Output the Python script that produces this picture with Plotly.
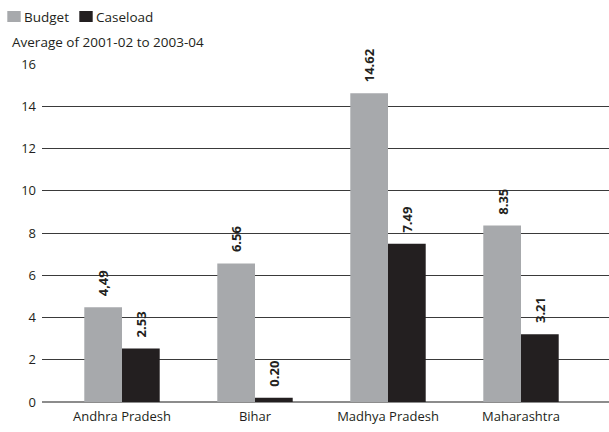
import plotly.graph_objects as go

states = ["Andhra Pradesh", "Bihar", "Madhya Pradesh", "Maharashtra"]
budget = [4.49, 6.56, 14.62, 8.35]
caseload = [2.53, 0.20, 7.49, 3.21]
budget_labels = ["4,49", "6.56", "14.62", "8.35"]
caseload_labels = ["2.53", "0.20", "7.49", "3.21"]
y_ticks = [0, 2, 4, 6, 8, 10, 12, 14, 16]

FONT = "Open Sans"
DARK = "#231F20"
GRAY = "#A7A9AC"
BAR_PX = 37.7
W, H = 609, 432
ML, MT, MB = 42, 64, 30
PW, PH = W - ML, H - MT - MB


def px_x(p):
    return (p - ML) / PW


def px_y(p):
    return 1 + (MT - p) / PH


fig = go.Figure()
fig.add_trace(go.Bar(name="Budget", x=states, y=budget,
                     marker=dict(color=GRAY, line=dict(width=0))))
fig.add_trace(go.Bar(name="Caseload", x=states, y=caseload,
                     marker=dict(color=DARK, line=dict(width=0))))

annotations = []
for vals, labels, shift in [(budget, budget_labels, -BAR_PX / 2), (caseload, caseload_labels, BAR_PX / 2)]:
    for s, v, t in zip(states, vals, labels):
        annotations.append(dict(x=s, y=v, xref="x", yref="y", text=t, textangle=-90,
                                xanchor="center", yanchor="bottom", xshift=shift, yshift=9,
                                showarrow=False,
                                font=dict(family=FONT, size=13, color=DARK, weight="bold")))
annotations.append(dict(text="Average of 2001-02 to 2003-04", xref="paper", yref="paper",
                        x=px_x(10), y=px_y(41.5), xanchor="left", yanchor="middle",
                        showarrow=False, font=dict(size=13.5)))

# legend (manual, to match the reference's compact swatches)
shapes = []
for name, color, sx, tx in [("Budget", GRAY, 7.3, 22.3), ("Caseload", DARK, 79.3, 94)]:
    shapes.append(dict(type="rect", xref="paper", yref="paper",
                       x0=px_x(sx), x1=px_x(sx + 13.4), y0=px_y(22), y1=px_y(11),
                       fillcolor=color, line=dict(width=0)))
    annotations.append(dict(text=name, xref="paper", yref="paper", x=px_x(tx), y=px_y(17.3),
                            xanchor="left", yanchor="middle", showarrow=False,
                            font=dict(size=13.5)))

fig.update_layout(
    width=W, height=H,
    margin=dict(l=ML, r=0, t=MT, b=MB, autoexpand=False),
    paper_bgcolor="white", plot_bgcolor="white",
    font=dict(family=FONT, size=13, color=DARK),
    barmode="group", bargap=0.433, bargroupgap=0,
    showlegend=False,
    annotations=annotations,
    shapes=shapes,
)
fig.update_xaxes(range=[-(122 - ML) / 133, 3 + (W - 521) / 133], showgrid=False, showline=False,
                 ticks="", tickfont=dict(size=13), zeroline=False, ticklabelstandoff=5)
fig.update_yaxes(range=[0, 16], tickvals=y_ticks, showgrid=True, gridcolor="#3a3a3a",
                 gridwidth=1, zeroline=True, zerolinecolor="#8C8C8C", zerolinewidth=2,
                 ticks="", ticklabelstandoff=5, tickfont=dict(size=13), showline=False)

fig.write_html("out.html", config={"displayModeBar": False},
               post_script="document.body.style.margin='0';")
